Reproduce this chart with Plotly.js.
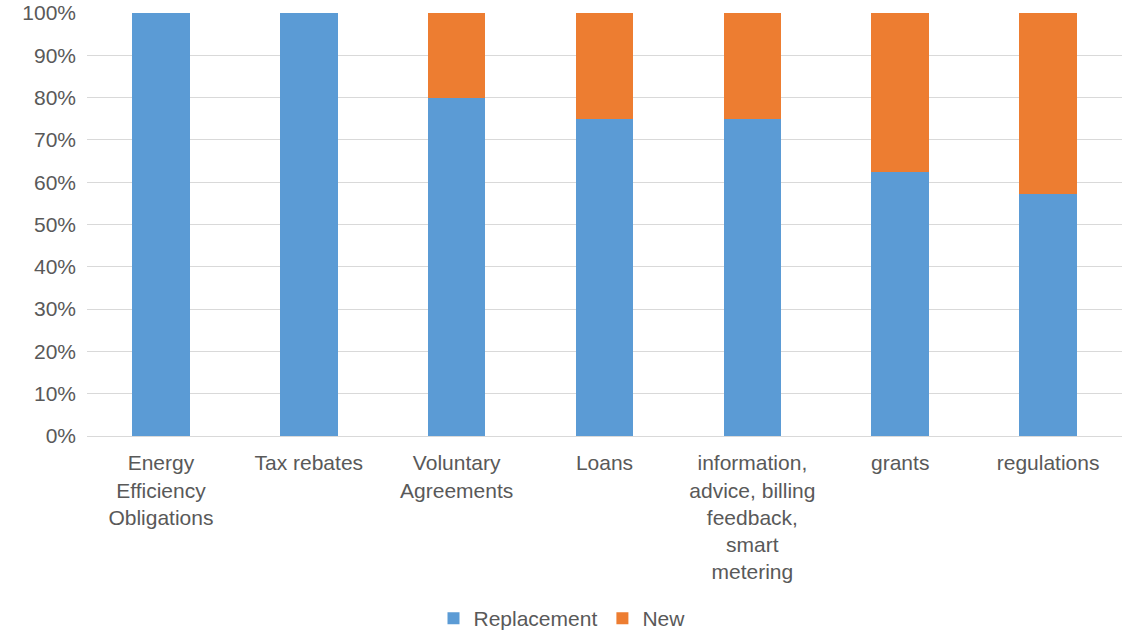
<!DOCTYPE html>
<html>
<head>
<meta charset="utf-8">
<script src="https://cdn.plot.ly/plotly-3.0.1.min.js"></script>
<style>html,body{margin:0;padding:0;background:#fff;}#chart{width:1124px;height:639px;}</style>
</head>
<body>
<div id="chart"></div>
<script>
var categories = [
  "Energy<br>Efficiency<br>Obligations",
  "Tax rebates",
  "Voluntary<br>Agreements",
  "Loans",
  "information,<br>advice, billing<br>feedback,<br>smart<br>metering",
  "grants",
  "regulations"
];
var replacement = [1.0, 1.0, 0.8, 0.75, 0.75, 0.625, 0.571];
var newShare = [0.0, 0.0, 0.2, 0.25, 0.25, 0.375, 0.429];
var yTicks = [0, 0.1, 0.2, 0.3, 0.4, 0.5, 0.6, 0.7, 0.8, 0.9, 1.0];
var yTickText = ["0%", "10%", "20%", "30%", "40%", "50%", "60%", "70%", "80%", "90%", "100%"];

var font = {family: "Liberation Sans, Arial, sans-serif", size: 21, color: "#595959"};

var data = [
  {type: "bar", name: "Replacement", x: categories, y: replacement,
   marker: {color: "#5B9BD5"}, hoverinfo: "none"},
  {type: "bar", name: "New", x: categories, y: newShare,
   marker: {color: "#ED7D31"}, hoverinfo: "none"}
];

var layout = {
  width: 1124, height: 639,
  margin: {l: 87, r: 2, t: 13, b: 203},
  barmode: "stack",
  bargap: 0.61,
  paper_bgcolor: "#ffffff",
  plot_bgcolor: "#ffffff",
  font: font,
  showlegend: true,
  legend: {orientation: "h", traceorder: "normal", x: 0.5, xref: "container", xanchor: "center",
           y: 0, yref: "container", yanchor: "bottom",
           font: font, itemwidth: 30, tracegroupgap: 0},
  xaxis: {
    tickfont: font, showgrid: false, zeroline: false,
    showline: true, linecolor: "#d9d9d9", linewidth: 1, ticks: "", ticklabelstandoff: 8,
    tickangle: 0, automargin: false
  },
  yaxis: {
    range: [0, 1.0], tickvals: yTicks, ticktext: yTickText, tickfont: font,
    showgrid: true, gridcolor: "#d9d9d9", gridwidth: 1, zeroline: false,
    showline: false, ticks: "", ticklabelstandoff: 10, automargin: false
  }
};

Plotly.newPlot("chart", data, layout, {displayModeBar: false, staticPlot: true});
</script>
</body>
</html>
